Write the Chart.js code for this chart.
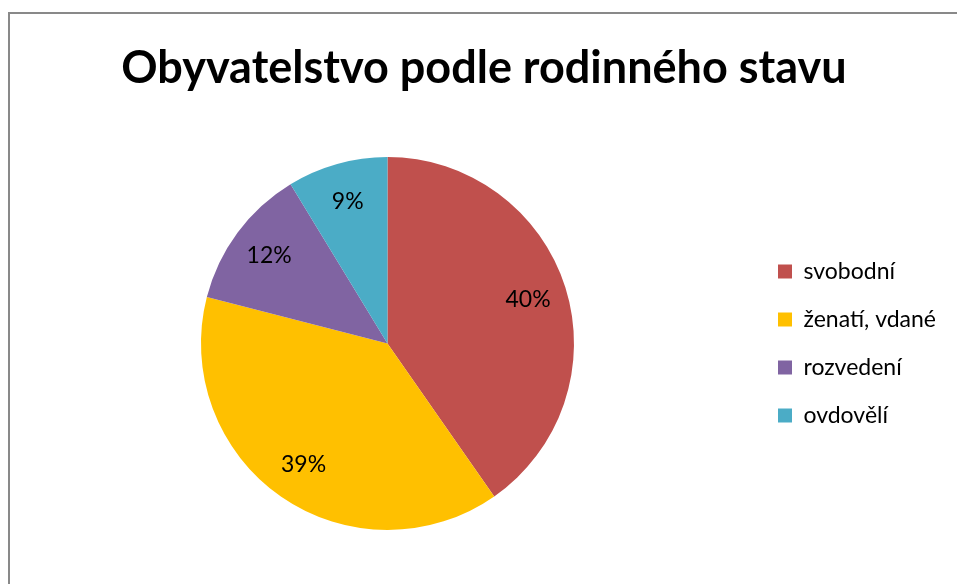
<!DOCTYPE html>
<html>
<head>
<meta charset="utf-8">
<script src="https://cdn.jsdelivr.net/npm/chart.js@4.4.0/dist/chart.umd.min.js"></script>
<style>
  html, body { margin: 0; padding: 0; background: #fff; overflow: hidden; width: 957px; height: 584px; }
  #frame { position: absolute; left: 8px; top: 12px; width: 1000px; height: 1000px; border: 2px solid #898989; box-sizing: border-box; }
  #chart { position: absolute; left: 9px; top: 0; }
</style>
</head>
<body>
<div id="frame"></div>
<canvas id="chart" width="960" height="584"></canvas>
<script>
// data
const categories = ['svobodní', 'ženatí, vdané', 'rozvedení', 'ovdovělí'];
const shares = [40.3, 38.7, 12.3, 8.7];
const shareLabels = ['40%', '39%', '12%', '9%'];
const sliceColors = ['#C0504D', '#FFC000', '#8064A2', '#4BACC6'];

const FONT = 'Lato, "Open Sans", sans-serif';

// percent labels placed at ~0.79 of the radius, like Excel does
const sliceLabels = {
    id: 'sliceLabels',
    afterDatasetsDraw(chart) {
        const ctx = chart.ctx;
        const meta = chart.getDatasetMeta(0);
        ctx.save();
        ctx.font = '23px ' + FONT;
        ctx.fillStyle = '#000';
        ctx.textAlign = 'center';
        ctx.textBaseline = 'middle';
        meta.data.forEach((arc, i) => {
            const mid = (arc.startAngle + arc.endAngle) / 2;
            const r = arc.outerRadius * 0.79;
            ctx.fillText(shareLabels[i], arc.x + Math.cos(mid) * r, arc.y + Math.sin(mid) * r);
        });
        ctx.restore();
    }
};

new Chart(document.getElementById('chart'), {
    type: 'pie',
    data: {
        labels: categories,
        datasets: [{
            data: shares,
            backgroundColor: sliceColors,
            borderWidth: 0
        }]
    },
    options: {
        responsive: false,
        animation: false,
        layout: { padding: { left: 13, right: 23, top: 0, bottom: 54 } },
        plugins: {
            title: {
                display: true,
                text: 'Obyvatelstvo podle rodinného stavu',
                color: '#000',
                font: { family: FONT, size: 45, weight: 'bold', lineHeight: 1.2 },
                padding: { top: 41, bottom: 62 }
            },
            legend: {
                position: 'right',
                // empty legend title only pushes the entries down to the middle
                title: { display: true, text: ' ', font: { size: 1, lineHeight: 1 }, padding: { top: 156, bottom: 0 } },
                labels: {
                    color: '#000',
                    font: { family: FONT, size: 23 },
                    boxWidth: 14,
                    boxHeight: 14,
                    padding: 25
                }
            },
            tooltip: { enabled: false }
        }
    },
    plugins: [sliceLabels]
});
</script>
</body>
</html>
